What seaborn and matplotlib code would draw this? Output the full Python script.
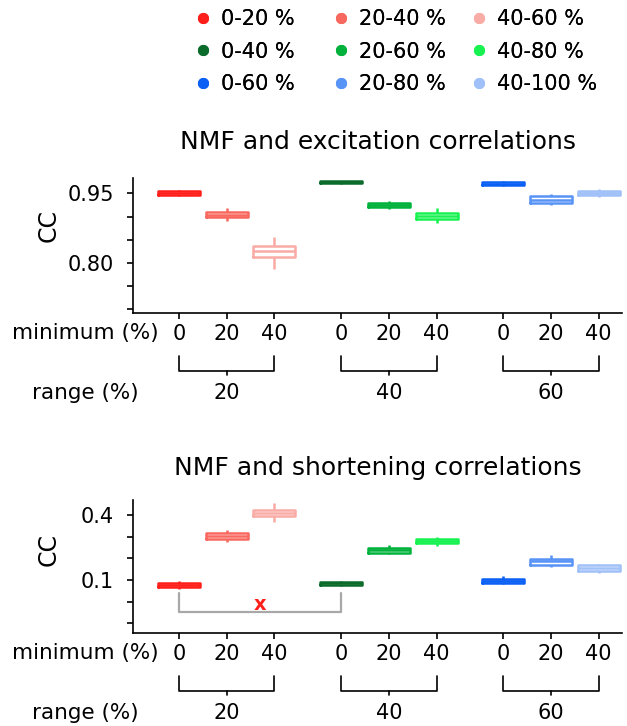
import numpy as np
import pandas as pd
import matplotlib
matplotlib.use("Agg")
import matplotlib.pyplot as plt
import matplotlib.transforms as mtransforms
from matplotlib.lines import Line2D
from matplotlib.ticker import FixedLocator, FormatStrFormatter
import seaborn as sns

sns.set_theme(style="ticks")
plt.rcParams['font.family'] = ['DejaVu Sans']
plt.rcParams['text.color'] = 'black'
plt.rcParams['axes.labelcolor'] = 'black'
plt.rcParams['xtick.color'] = 'black'
plt.rcParams['ytick.color'] = 'black'

# ---------------- data ----------------
labels = ["0-20 %", "20-40 %", "40-60 %",
          "0-40 %", "20-60 %", "40-80 %",
          "0-60 %", "20-80 %", "40-100 %"]
colors = ["#ff1f1a", "#f8685f", "#f9aba5",
          "#0b6b2b", "#00b23b", "#17f250",
          "#0a5ff5", "#5893f6", "#9fc0f8"]
positions = [0, 1, 2, 3.4, 4.4, 5.4, 6.8, 7.8, 8.8]
minimum_ticks = ["0", "20", "40", "0", "20", "40", "0", "20", "40"]
range_labels = ["20", "40", "60"]

exc_major = [0.80, 0.95]
exc_minor = [0.70, 0.75, 0.85, 0.90]
sho_major = [0.1, 0.4]
sho_minor = [-0.1, 0.0, 0.2, 0.3]

# excitation correlations: whisker low, q1, median, q3, whisker high
exc_lo  = [0.944, 0.891, 0.787, 0.971, 0.916, 0.886, 0.9656, 0.9256, 0.943]
exc_q1  = [0.9464, 0.8986, 0.812, 0.972, 0.921, 0.894, 0.967, 0.929, 0.9464]
exc_med = [0.950, 0.904, 0.825, 0.974, 0.925, 0.901, 0.9705, 0.936, 0.951]
exc_q3  = [0.9546, 0.9106, 0.837, 0.976, 0.929, 0.9085, 0.974, 0.944, 0.9556]
exc_hi  = [0.957, 0.918, 0.855, 0.977, 0.9335, 0.919, 0.976, 0.9486, 0.960]

# shortening correlations
sho_lo  = [0.058, 0.276, 0.369, 0.073, 0.220, 0.259, 0.082, 0.159, 0.130]
sho_q1  = [0.0668, 0.291, 0.395, 0.079, 0.226, 0.270, 0.088, 0.171, 0.141]
sho_med = [0.076, 0.305, 0.409, 0.085, 0.239, 0.279, 0.096, 0.187, 0.155]
sho_q3  = [0.0853, 0.318, 0.423, 0.091, 0.249, 0.288, 0.105, 0.199, 0.168]
sho_hi  = [0.097, 0.331, 0.454, 0.097, 0.262, 0.297, 0.119, 0.216, 0.176]


def long_df(lo, q1, med, q3, hi):
    rows = []
    for i, lab in enumerate(labels):
        for v in (lo[i], q1[i], med[i], q3[i], hi[i]):
            rows.append({"pos": positions[i], "label": lab, "value": v})
    return pd.DataFrame(rows)


palette = dict(zip(labels, colors))
W, H = 627, 726
fig = plt.figure(figsize=(W / 100, H / 100), dpi=100)

FS = 15


def px_axes(left, top, right, bottom):
    return fig.add_axes([left / W, 1 - bottom / H, (right - left) / W, (bottom - top) / H])


ax1 = px_axes(133.3, 178, 622, 312.7)
ax2 = px_axes(133.3, 500, 622, 633.3)

panels = [
    (ax1, long_df(exc_lo, exc_q1, exc_med, exc_q3, exc_hi), (0.693, 0.983),
     exc_major, exc_minor, "NMF and excitation correlations", 142, "%.2f", 0.65),
    (ax2, long_df(sho_lo, sho_q1, sho_med, sho_q3, sho_hi), (-0.146, 0.469),
     sho_major, sho_minor, "NMF and shortening correlations", 468, "%.1f", 0.63),
]

for ax, df, ylim, major, minor, title, title_y, fmt, ylab_y in panels:
    sns.boxplot(data=df, x="pos", y="value", hue="label", palette=palette,
                native_scale=True, dodge=False, fill=False, whis=(0, 100),
                showcaps=False, width=0.88, linewidth=1.8, legend=False, ax=ax)
    ax.set_xlim(-0.96, 9.29)
    ax.set_ylim(*ylim)
    ax.yaxis.set_major_locator(FixedLocator(major))
    ax.yaxis.set_minor_locator(FixedLocator(minor))
    ax.yaxis.set_major_formatter(FormatStrFormatter(fmt))
    ax.set_xticks(positions)
    ax.set_xticklabels(minimum_ticks)
    ax.tick_params(axis="both", which="both", length=4, width=1.2, colors="black",
                   labelsize=FS)
    ax.tick_params(axis="y", which="both", pad=10)
    ax.tick_params(axis="x", pad=4)
    for s in ("top", "right"):
        ax.spines[s].set_visible(False)
    for s in ("left", "bottom"):
        ax.spines[s].set_linewidth(1.2)
        ax.spines[s].set_color("black")
    ax.set_xlabel("")
    ax.set_ylabel("CC", fontsize=17)
    ax.yaxis.set_label_coords(-0.148, ylab_y)
    fig.text(377.6 / W, 1 - title_y / H, title, ha="center", va="center", fontsize=18)

    # range brackets below the axis
    hpx = ax.get_position().height * H
    trans = mtransforms.blended_transform_factory(ax.transData, ax.transAxes)
    y_top = -43 / hpx
    y_bot = -58 / hpx
    y_tick = -62 / hpx
    for g in range(3):
        xa, xb = positions[3 * g], positions[3 * g + 2]
        xc = positions[3 * g + 1]
        ax.plot([xa, xa, xb, xb], [y_top, y_bot, y_bot, y_top], color="black",
                lw=1.2, transform=trans, clip_on=False)
        ax.plot([xc, xc], [y_bot, y_tick], color="black", lw=1.2,
                transform=trans, clip_on=False)
        ax.text(xc, -80 / hpx, range_labels[g], transform=trans, ha="center",
                va="center", fontsize=FS)

    bot_px = (1 - ax.get_position().y0) * H
    fig.text(85 / W, 1 - (bot_px + 20) / H, "minimum (%)", ha="center", va="center", fontsize=15.5)
    fig.text(85 / W, 1 - (bot_px + 80) / H, "range (%)", ha="center", va="center", fontsize=15.5)

# comparison bracket in the shortening panel
ax2.plot([positions[0], positions[0], positions[3], positions[3]],
         [0.042, -0.05, -0.05, 0.042], color="#a8a8a8", lw=1.6)
ax2.text((positions[0] + positions[3]) / 2, -0.015, "x", color="#ff1f1a",
         ha="center", va="center", fontsize=14, fontweight="bold")

# legend: three columns
for c in range(3):
    handles = [Line2D([], [], marker="o", linestyle="none", markersize=7,
                      markerfacecolor=colors[3 * r + c], markeredgecolor=colors[3 * r + c])
               for r in range(3)]
    labs = [labels[3 * r + c] for r in range(3)]
    xs = [192.6, 331, 469][c]
    leg = fig.legend(handles, labs, loc="upper left",
                     bbox_to_anchor=(xs / W, 1 - 9 / H), frameon=False,
                     fontsize=FS, handlelength=1.0, handletextpad=0.35,
                     borderpad=0, borderaxespad=0, labelspacing=0.6)
    fig.add_artist(leg)

fig.savefig("out.png", dpi=100)
